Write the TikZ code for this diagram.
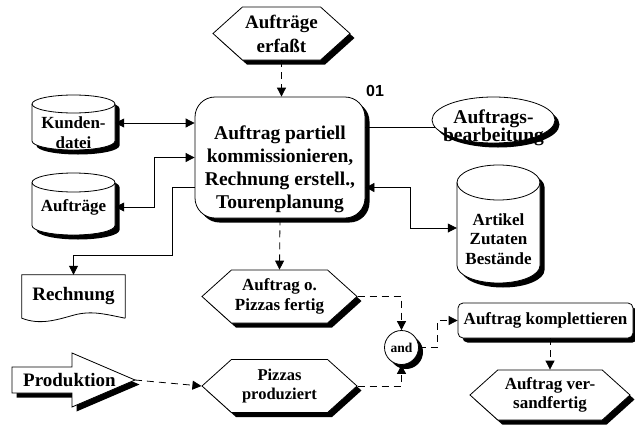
\documentclass[tikz,border=0pt]{standalone}
\usepackage{fontspec}
\setmainfont{Liberation Serif}
\newfontfamily\numfont{Liberation Sans}
\usepackage{tikz}
\usetikzlibrary{shapes.geometric, shapes.symbols, arrows.meta, positioning, calc, shadows}
\newcommand{\bigfont}{\fontsize{19.5}{23}\selectfont\bfseries}
\newcommand{\midfont}{\fontsize{17}{19.5}\selectfont\bfseries}
\newcommand{\lowtext}[2]{\raisebox{-#1}[\height][\depth]{\begin{tabular}{@{}c@{}}#2\end{tabular}}}
\newcommand{\flattext}[2]{\raisebox{-#1}[0pt][0pt]{\makebox[0pt]{\begin{tabular}{@{}c@{}}#2\end{tabular}}}}
% Datenspeicher: Mitte x, oben, unten, Deckelradius
\newcommand{\dbshape}[4]{%
  \draw[line, fill=white, blackshadow] (#1-41.5,#2+#4) -- (#1-41.5,#3-#4)
    arc[start angle=180, end angle=360, x radius=41.5pt, y radius=#4pt]
    -- (#1+41.5,#2+#4) arc[start angle=0, end angle=180, x radius=41.5pt, y radius=#4pt] -- cycle;
  \draw[line] (#1-41.5,#2+#4) arc[start angle=180, end angle=360, x radius=41.5pt, y radius=#4pt];
}
\tikzset{
  blackshadow/.style={drop shadow={shadow xshift=4.5pt, shadow yshift=-4.5pt, fill=black, opacity=1}},
  func/.style={rectangle, draw, fill=white, blackshadow, rounded corners=20pt,
    line width=0.8pt, inner sep=0pt, font=\bigfont},
  event/.style={signal, signal to=west and east, signal pointer angle=84, draw, fill=white,
    blackshadow, line width=0.8pt, inner sep=0pt, minimum width=155pt, minimum height=53pt,
    font=\midfont, align=center},
  storetext/.style={rectangle, inner sep=0pt, minimum width=83pt, font=\midfont, align=center},
  orgunit/.style={ellipse, draw, fill=white, blackshadow, line width=0.8pt, inner sep=0pt,
    minimum width=123pt, minimum height=46pt, font=\bigfont},
  andjunc/.style={circle, draw, fill=white, blackshadow, line width=0.8pt, inner sep=0pt,
    minimum size=34pt, font=\fontsize{13.5}{15}\selectfont\bfseries},
  arr/.style={-{Triangle[length=9pt,width=9pt]}, line width=0.8pt},
  darr/.style={{Triangle[length=9pt,width=9pt]}-{Triangle[length=9pt,width=9pt]}, line width=0.8pt},
  dasharr/.style={arr, dash pattern=on 7pt off 5pt},
  line/.style={line width=0.8pt}
}
\begin{document}
\begin{tikzpicture}[x=1pt, y=-1pt]
  \useasboundingbox (0,0) rectangle (635,426);

  % Funktion und Ereignisse
  \node[func, minimum width=170pt, minimum height=121pt] (func) at (280,157.5)
    {\lowtext{12pt}{Auftrag partiell\\kommissionieren,\\Rechnung erstell.,\\Tourenplanung}};
  \node[font=\numfont\bfseries\fontsize{16}{18}\selectfont] (nr) at (375,91) {01};
  \node[event, minimum width=137pt, font=\fontsize{19}{24}\selectfont\bfseries] (erfasst) at (281.5,33.5) {Aufträge\\erfaßt};
  \node[event] (fertig) at (279.5,296.5) {Auftrag o.\\Pizzas fertig};
  \node[event, font=\fontsize{16.5}{19}\selectfont\bfseries] (produziert) at (279.5,386) {Pizzas\\produziert};
  \node[andjunc] (andc) at (401.5,347.5) {and};
  \node[func, rounded corners=5pt, minimum width=175pt, minimum height=35pt, font=\midfont] (kompl) at (545.5,320.5) {Auftrag komplettieren};
  \node[event, minimum width=160pt, minimum height=50pt] (versand) at (550,395) {Auftrag ver-\\sandfertig};

  % Daten, Organisation
  \dbshape{73.5}{95}{150}{9}
  \dbshape{73.5}{173}{235}{9.5}
  \dbshape{498.5}{165}{283}{17.5}
  \node[storetext] (kunden) at (73.5,132.5) {Kunden-\\datei};
  \node[storetext] (auftr) at (73.5,207) {Aufträge};
  \node[storetext] (artikel) at (498.5,239) {Artikel\\Zutaten\\Bestände};
  \node[orgunit] (bearb) at (493.5,120) {\flattext{13pt}{Auftrags-\\[-5pt]bearbeitung}};
  \node[rectangle, minimum width=103pt, minimum height=43pt, inner sep=0pt,
    font=\fontsize{19}{23}\selectfont\bfseries] (rechnung) at (73.5,296.5) {Rechnung};
  \draw[line] (rechnung.south east) -- (rechnung.north east) -- (rechnung.north west) -- (rechnung.south west)
    .. controls ++(18,7) and ++(-18,5) .. ($(rechnung.south)+(0,-3)$)
    .. controls ++(18,-5) and ++(-20,-4) .. (rechnung.south east);

  % Prozesswegweiser
  \draw[line, fill=white, blackshadow] (12,367) -- (72,367) -- (72,353) -- (135,380)
    -- (72,407) -- (72,393) -- (12,393) -- cycle;
  \coordinate (prodtip) at (135,380);
  \node[font=\fontsize{19}{23}\selectfont\bfseries, inner sep=0pt] (prod) at (69.5,380) {Produktion};

  % Verbindungen
  \draw[dasharr] (erfasst.south) -- (erfasst.south |- func.north);
  \draw[darr] ([yshift=9.5pt]kunden.east) -- ([yshift=9.5pt]kunden.east -| func.west);
  \draw[darr] (auftr.east) -- ++(39,0) |- (func.west);
  \draw[arr] ([yshift=-30pt]func.west) -- ++(-22,0) -- ++(0,68) -| (rechnung.north);
  \draw[darr] ([yshift=-30pt]func.east) -- ++(45,0) |- ([yshift=11pt]artikel.west);
  \coordinate (bk) at ([yshift=30pt]func.east);
  \draw[line] (bk) -- (bk -| bearb.187);
  \draw[dasharr] (func.south) -- (fertig.north);
  \draw[dasharr] (fertig.east) -| (andc.north);
  \draw[dasharr] (produziert.east) -| (andc.south);
  \draw[dasharr] (prodtip) -- (produziert.west);
  \draw[dasharr] (andc.east) -- ++(18,0) |- (kompl.west);
  \draw[dasharr] (kompl.south -| versand.north) -- (versand.north);
\end{tikzpicture}
\end{document}
